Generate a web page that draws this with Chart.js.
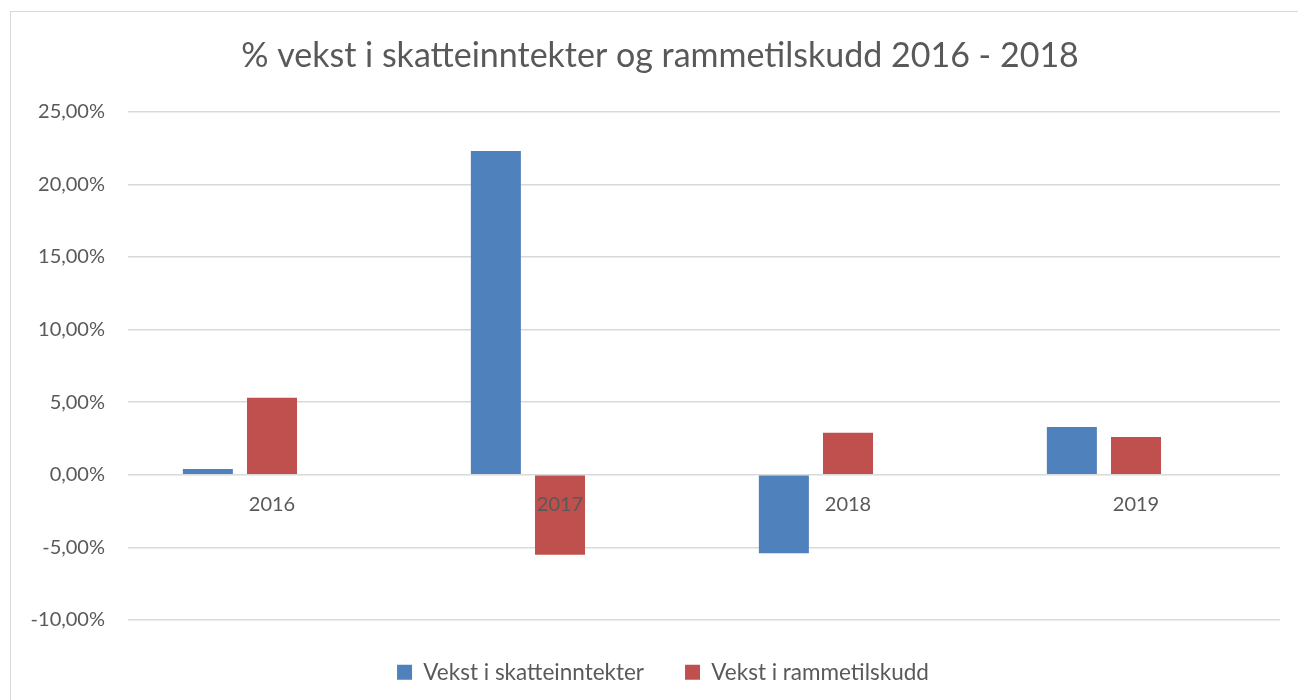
<!DOCTYPE html>
<html><head><meta charset="utf-8">
<script src="https://cdn.jsdelivr.net/npm/chart.js@4"></script>
<style>html,body{margin:0;padding:0;background:#fff}#wrap{position:relative;width:1298px;height:700px}
#frame{position:absolute;left:10px;top:11px;width:1290px;height:700px;border:1.5px solid #d9d9d9;box-sizing:border-box}</style>
</head><body><div id="wrap"><div id="frame"></div><canvas id="c" width="1298" height="700"></canvas></div>
<script>
const categories = ['2016', '2017', '2018', '2019'];
const skatteinntekter = [0.4, 22.3, -5.4, 3.3];
const rammetilskudd = [5.3, -5.5, 2.9, 2.6];
const emptySeries = [null, null, null, null];
const yTicks = { min: -10, max: 25, step: 5 };
const txt = '#595959';
const FONT = 'Lato';

function shiftDraw(box, dx) {
  if (!box || box._shifted) return;
  const orig = box.draw.bind(box);
  box.draw = function () { this.left += dx; this.right += dx; orig(); this.left -= dx; this.right -= dx; };
  box._shifted = true;
}

const boxFix = {
  id: 'boxFix',
  beforeLayout(chart) {
    const lg = chart.legend;
    if (lg && !lg._hfix) {
      const orig = lg.fit.bind(lg);
      lg.fit = function () { orig(); this.height = 80; };
      lg._hfix = true;
    }
    shiftDraw(chart.legend, 13);
    shiftDraw(chart.titleBlock, 10);
  }
};

new Chart(document.getElementById('c'), {
  type: 'bar',
  data: {
    labels: categories,
    datasets: [
      { label: 'Vekst i skatteinntekter', data: skatteinntekter, backgroundColor: '#4F81BD' },
      { label: 'Vekst i rammetilskudd', data: rammetilskudd, backgroundColor: '#C0504D' },
      { label: '', data: emptySeries, backgroundColor: 'rgba(0,0,0,0)' }
    ]
  },
  plugins: [boxFix],
  options: {
    responsive: false,
    animation: false,
    devicePixelRatio: 1,
    layout: { padding: { left: 20, right: 18, top: 0, bottom: 0 } },
    datasets: { bar: { categoryPercentage: 0.668, barPercentage: 0.78 } },
    plugins: {
      title: { display: true, text: '% vekst i skatteinntekter og rammetilskudd 2016 - 2018',
        color: txt, font: { family: FONT, size: 34, weight: 'normal' }, padding: { top: 36, bottom: 35 } },
      legend: { position: 'bottom',
        labels: { color: txt, font: { family: FONT, size: 22.5 }, boxWidth: 15, boxHeight: 15, padding: 41,
          filter: (item) => item.text !== '' } },
      tooltip: { enabled: false }
    },
    scales: {
      x: { position: { y: 0 },
        grid: { display: false, drawTicks: false }, border: { display: false },
        ticks: { z: 1, color: txt, font: { family: FONT, size: 20 }, padding: 18 } },
      y: { min: yTicks.min, max: yTicks.max,
        grid: { color: '#d9d9d9', lineWidth: 1.5, drawTicks: false }, border: { display: false },
        afterFit: (s) => { s.width = 108; },
        ticks: { stepSize: yTicks.step, color: txt, font: { family: FONT, size: 20 }, padding: 23,
          callback: (v) => v.toFixed(2).replace('.', ',') + '%' } }
    }
  }
});
</script></body></html>
